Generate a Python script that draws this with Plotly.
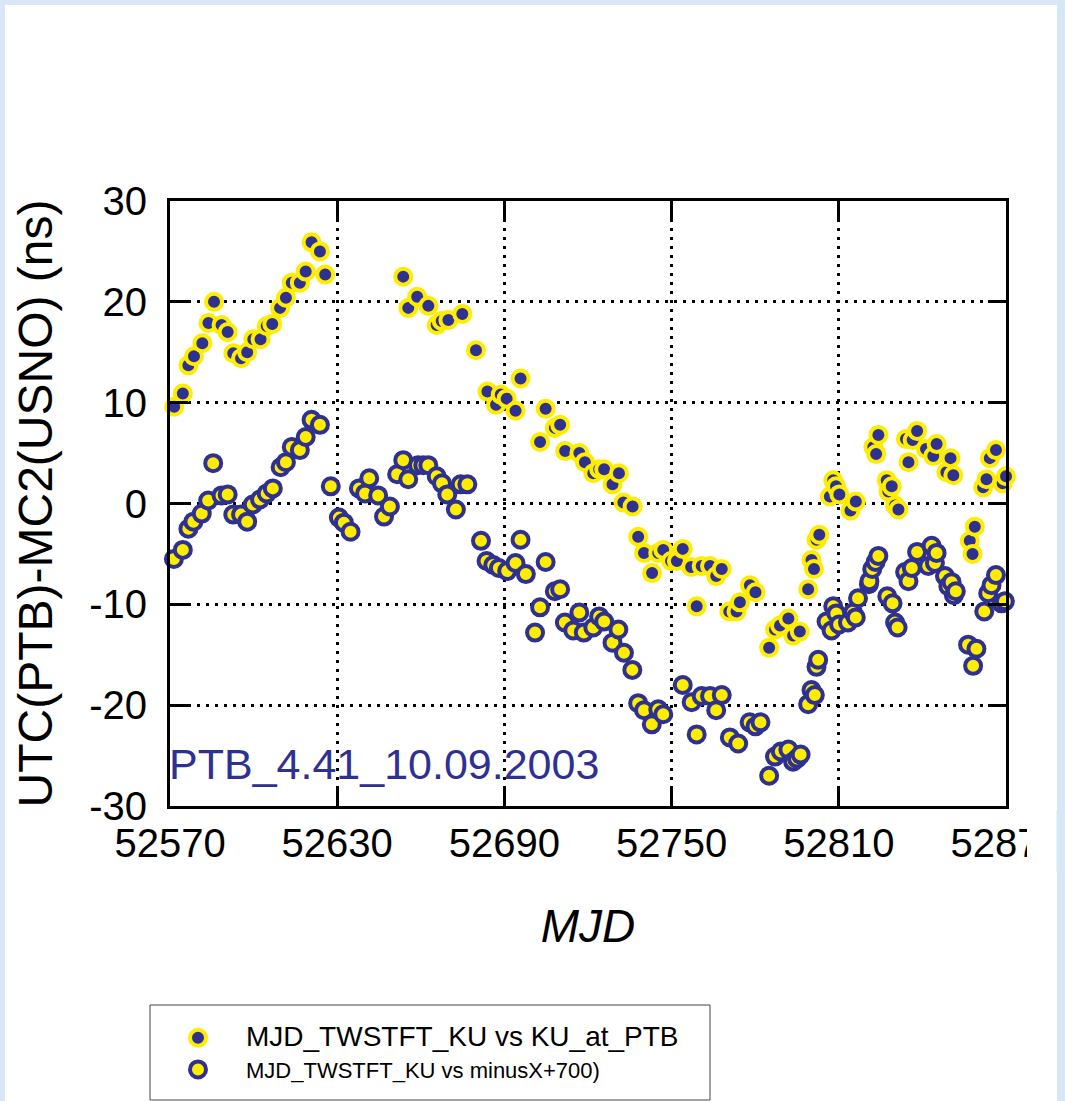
import plotly.graph_objects as go

NAVY = "#2e3192"
YELLOW = "#ffed00"
PAGE_BLUE = "#d7e7f8"
FONT = "Liberation Sans, Arial, sans-serif"

# MJD_TWSTFT_KU vs KU_at_PTB
mjd_ptb = [
    52569.0, 52571.5, 52574.6, 52576.6, 52578.6, 52581.6, 52583.8, 52585.8, 52588.5, 52590.7,
    52592.7, 52595.5, 52597.7, 52599.9, 52602.5, 52604.7, 52606.7, 52609.5, 52611.6, 52613.7,
    52616.6, 52618.7, 52620.8, 52623.8, 52625.7, 52653.7, 52655.5, 52658.7, 52662.7, 52665.7,
    52667.5, 52669.9, 52674.9, 52679.8, 52683.9, 52687.0, 52688.7, 52690.8, 52694.0, 52695.8,
    52702.8, 52704.8, 52708.1, 52710.0, 52711.8, 52716.9, 52718.9, 52721.9, 52724.0, 52725.8,
    52728.8, 52731.1, 52732.7, 52736.0, 52738.0, 52740.1, 52743.0, 52745.2, 52747.0, 52749.8,
    52751.9, 52754.0, 52757.0, 52759.0, 52760.8, 52763.8, 52766.0, 52768.0, 52770.7, 52773.3,
    52774.5, 52778.1, 52780.1, 52785.0, 52787.1, 52788.9, 52791.9, 52793.6, 52796.0, 52799.0,
    52800.2, 52801.1, 52802.0, 52803.0, 52806.8, 52808.0, 52809.0, 52810.2, 52814.2, 52816.1,
    52822.4, 52823.4, 52824.2, 52827.2, 52827.8, 52829.0, 52830.2, 52831.4, 52834.1, 52835.0,
    52836.5, 52838.1, 52841.3, 52843.9, 52845.1, 52848.6, 52850.1, 52851.1, 52857.0, 52858.0,
    52858.8, 52861.8, 52863.0, 52864.2, 52866.4, 52868.8, 52870.0,
]
ku_at_ptb = [
    9.6, 9.6, 10.9, 13.7, 14.6, 15.9, 17.9, 20.0, 17.7, 17.0,
    14.9, 14.4, 15.0, 16.3, 16.3, 17.6, 17.8, 19.4, 20.4, 21.9,
    21.9, 23.0, 25.9, 25.0, 22.7, 22.5, 19.4, 20.5, 19.6, 17.7,
    18.1, 18.2, 18.8, 15.2, 11.1, 9.8, 10.8, 10.4, 9.2, 12.4,
    6.1, 9.4, 7.5, 7.8, 5.2, 5.0, 4.1, 3.0, 3.4, 3.4,
    1.9, 3.0, 0.1, -0.3, -3.3, -4.9, -6.9, -4.9, -4.6, -5.7,
    -5.7, -4.5, -6.3, -10.2, -6.2, -6.2, -7.2, -6.5, -10.7, -10.7,
    -9.8, -8.1, -8.8, -14.3, -12.5, -12.1, -11.4, -13.1, -12.7, -8.5,
    -5.6, -6.5, -3.6, -3.1, 0.7, 2.3, 1.7, 0.9, -0.7, 0.2,
    5.6, 4.9, 6.8, 2.3, 1.2, 1.7, -0.2, -0.6, 6.4, 4.1,
    6.3, 7.2, 5.4, 4.7, 5.9, 3.1, 4.5, 2.8, -3.7, -5.0,
    -2.3, 1.6, 2.4, 4.5, 5.3, 2.0, 2.7,
]

# MJD_TWSTFT_KU vs minusX+700)
mjd_minus = [
    52569.4, 52571.4, 52574.6, 52576.6, 52578.4, 52581.4, 52583.7, 52585.5, 52588.5, 52590.7,
    52592.7, 52595.5, 52597.7, 52599.7, 52602.3, 52604.7, 52606.9, 52609.7, 52611.6, 52613.7,
    52616.6, 52618.7, 52620.8, 52623.8, 52627.7, 52630.6, 52632.4, 52634.8, 52637.8, 52640.0,
    52641.5, 52644.7, 52646.8, 52648.9, 52651.5, 52653.7, 52655.5, 52659.0, 52660.9, 52662.7,
    52665.7, 52667.6, 52669.5, 52672.6, 52674.3, 52676.7, 52681.6, 52683.6, 52686.0, 52688.0,
    52691.0, 52694.0, 52695.8, 52697.7, 52701.0, 52702.8, 52704.8, 52708.1, 52710.0, 52711.7,
    52714.7, 52716.9, 52718.5, 52721.9, 52724.0, 52725.8, 52728.8, 52730.9, 52732.9, 52735.9,
    52738.0, 52740.1, 52742.9, 52745.2, 52747.0, 52754.0, 52757.2, 52759.0, 52760.8, 52763.8,
    52766.0, 52768.0, 52770.9, 52773.9, 52778.0, 52780.1, 52781.9, 52785.0, 52787.1, 52789.2,
    52791.9, 52793.6, 52795.0, 52796.3, 52799.0, 52800.2, 52801.4, 52802.0, 52802.6, 52805.6,
    52807.4, 52808.0, 52809.1, 52810.1, 52813.3, 52815.1, 52816.1, 52816.9, 52820.8, 52821.0,
    52822.0, 52823.2, 52824.2, 52827.4, 52829.3, 52830.2, 52831.1, 52833.8, 52835.0, 52836.2,
    52838.1, 52842.1, 52843.3, 52844.5, 52845.1, 52848.1, 52849.3, 52850.5, 52851.3, 52852.0,
    52856.4, 52858.2, 52859.4, 52862.2, 52863.6, 52864.8, 52866.4, 52868.4, 52869.6,
]
minus_x_700 = [
    -6.0, -5.5, -4.6, -2.5, -1.8, -1.0, 0.3, 4.0, 0.8, 0.9,
    -1.1, -1.1, -1.8, -0.1, 0.4, 1.0, 1.5, 3.6, 4.1, 5.6,
    5.3, 6.6, 8.3, 7.8, 1.7, -1.4, -1.9, -2.8, 1.5, 1.0,
    2.5, 0.8, -1.3, -0.3, 2.9, 4.3, 2.4, 3.8, 3.8, 3.8,
    2.7, 2.0, 0.9, -0.6, 1.9, 1.9, -3.7, -5.7, -6.1, -6.4,
    -6.7, -5.9, -3.6, -7.0, -12.8, -10.3, -5.8, -8.7, -8.5, -11.8,
    -12.6, -10.8, -12.8, -12.3, -11.2, -11.7, -13.8, -12.5, -14.8, -16.5,
    -19.8, -20.5, -21.9, -20.4, -20.9, -18.0, -19.7, -22.9, -19.1, -19.1,
    -20.5, -19.0, -23.2, -23.8, -21.7, -22.1, -21.7, -27.0, -25.1, -24.6,
    -24.4, -25.6, -25.3, -24.9, -19.9, -18.5, -19.0, -16.2, -15.5, -11.7,
    -12.6, -10.2, -10.9, -12.0, -11.8, -10.8, -11.3, -9.4, -8.0, -7.7,
    -6.5, -5.8, -5.2, -9.2, -9.9, -11.8, -12.3, -6.8, -7.7, -6.4,
    -4.8, -6.2, -4.2, -5.9, -4.9, -7.2, -8.2, -7.8, -9.1, -8.7,
    -14.0, -16.1, -14.4, -10.7, -8.9, -8.1, -7.1, -9.9, -9.7,
]

x_ticks = [52570, 52630, 52690, 52750, 52810, 52870]
y_ticks = [-30, -20, -10, 0, 10, 20, 30]

fig = go.Figure()
fig.add_trace(
    go.Scatter(
        x=mjd_ptb,
        y=ku_at_ptb,
        mode="markers",
        name='<span style="font-size:28px">MJD_TWSTFT_KU vs KU_at_PTB</span>',
        marker=dict(size=16, color=NAVY, line=dict(color=YELLOW, width=4)),
        cliponaxis=False,
    )
)
fig.add_trace(
    go.Scatter(
        x=mjd_minus,
        y=minus_x_700,
        mode="markers",
        name="MJD_TWSTFT_KU vs minusX+700)",
        marker=dict(size=16, color=YELLOW, line=dict(color=NAVY, width=4)),
        cliponaxis=False,
    )
)

axis_style = dict(
    automargin=False,
    showline=True,
    linecolor="black",
    linewidth=3,
    mirror="ticks",
    ticks="inside",
    ticklen=18,
    tickwidth=3,
    tickcolor="black",
    showgrid=True,
    gridcolor="black",
    gridwidth=3,
    griddash="3px,6px",
    zeroline=False,
    tickfont=dict(family=FONT, size=40, color="black"),
)

fig.update_xaxes(
    range=[52570, 52870],
    tickvals=x_ticks,
    ticktext=[str(v) for v in x_ticks],
    title=dict(text="<i>MJD</i>", font=dict(family=FONT, size=46, color="black"), standoff=46),
    ticklabelstandoff=0,
    **axis_style,
)
fig.update_yaxes(
    range=[-30, 30],
    tickvals=y_ticks,
    ticktext=[str(v) for v in y_ticks],
    title=dict(text="UTC(PTB)-MC2(USNO) (ns)", font=dict(family=FONT, size=48, color="black"), standoff=22),
    ticklabelstandoff=12,
    **axis_style,
)

fig.add_annotation(
    x=52570,
    y=-25.8,
    xref="x",
    yref="y",
    xanchor="left",
    yanchor="middle",
    xshift=-3,
    text="PTB_4.41_10.09.2003",
    showarrow=False,
    font=dict(family=FONT, size=43, color=NAVY),
)


def px_x(v):
    return (v - 170) / 836


def px_y(v):
    return (806 - v) / 605


# white page panel over the light blue background
fig.add_shape(
    type="rect", xref="paper", yref="paper",
    x0=px_x(5), x1=px_x(1057), y0=px_y(1120), y1=px_y(5),
    fillcolor="white", line=dict(width=0), layer="below",
)
# legend frame
fig.add_shape(
    type="rect", xref="paper", yref="paper",
    x0=px_x(150), x1=px_x(710), y0=px_y(1100), y1=px_y(1005),
    fillcolor="white", line=dict(color="#444444", width=1), layer="below",
)
# the last tick label is cut off at the image edge
fig.add_shape(
    type="rect", xref="paper", yref="paper",
    x0=px_x(1027), x1=px_x(1058), y0=px_y(870), y1=px_y(812),
    fillcolor="white", line=dict(width=0), layer="above",
)
fig.add_shape(
    type="rect", xref="paper", yref="paper",
    x0=px_x(1056.5), x1=px_x(1075), y0=px_y(872), y1=px_y(810),
    fillcolor=PAGE_BLUE, line=dict(width=0), layer="above",
)

fig.update_layout(
    width=1065,
    height=1101,
    margin=dict(l=170, r=59, t=201, b=295, autoexpand=False),
    paper_bgcolor=PAGE_BLUE,
    plot_bgcolor="white",
    font=dict(family=FONT, color="black"),
    showlegend=True,
    legend=dict(
        x=px_x(150),
        y=px_y(1017),
        xanchor="left",
        yanchor="top",
        bgcolor="rgba(0,0,0,0)",
        borderwidth=0,
        font=dict(family=FONT, size=22, color="black"),
        itemwidth=86,
        tracegroupgap=0,
    ),
)

fig.write_html(
    "out.html",
    config={"displayModeBar": False},
    post_script=(
        "document.body.style.margin='0px';"
        "document.body.style.background='" + PAGE_BLUE + "';"
        "document.body.style.overflow='hidden';"
        "document.documentElement.style.overflow='hidden';"
    ),
)
